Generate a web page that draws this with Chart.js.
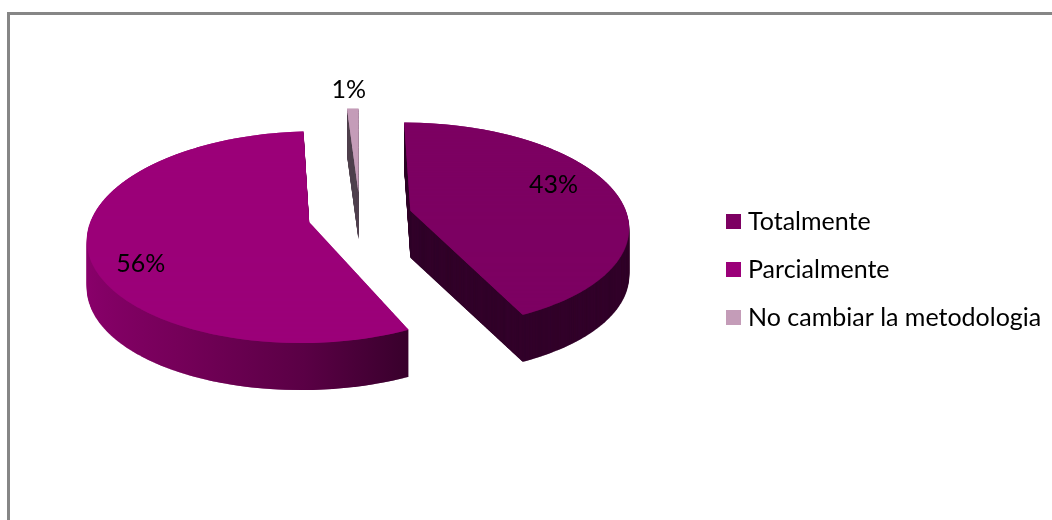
<!DOCTYPE html>
<html>
<head>
<meta charset="utf-8">
<title>Metodologia</title>
<script src="https://cdn.jsdelivr.net/npm/chart.js@4"></script>
<style>
  html, body { margin: 0; padding: 0; background: #fff; overflow: hidden; }
  #wrap { position: relative; width: 1052px; height: 520px; overflow: hidden; }
  #frame { position: absolute; left: 7px; top: 12px; width: 1200px; height: 700px; border: 3px solid #868686; }
  canvas { position: absolute; left: 0; top: 0; }
</style>
</head>
<body>
<div id="wrap">
  <div id="frame"></div>
  <canvas id="chart" width="1052" height="520"></canvas>
</div>
<script>
const categories = ['Totalmente', 'Parcialmente', 'No cambiar la metodologia'];
const percentages = [43, 56, 1];
const sliceColors = ['#7d0062', '#9b0079', '#c49cb8'];
const sideColors = ['#32002a', null, '#524450'];

// 3D look: perspective plane + extrusion
const CX = 360, CY = 216;
const RADIUS = 217, EXPLODE = 52, DEPTH = 47;
const TILT = 0.47, PERSP = 0.00065;
const STEP = 2;
const labelRadius = [0.68, 0.78, 1.22];
const labelNudge = [[4, -11], [3, 21], [-3, -3]];

function perspective(v) {
  return 1 / (1 - PERSP * v);
}

function project(u, v) {
  const s = perspective(v);
  return { x: CX + u * s, y: CY + TILT * v * s };
}

// draws one arc through the plane, one thin horizontal strip at a time
function drawSlice(ctx, arc, shiftY) {
  const mid = (arc.startAngle + arc.endAngle) / 2;
  const ex = Math.cos(mid) * EXPLODE, ey = Math.sin(mid) * EXPLODE;
  const f = RADIUS / arc.outerRadius;
  for (let v = -RADIUS - EXPLODE; v < RADIUS + EXPLODE; v += STEP) {
    const y0 = project(0, v).y, y1 = project(0, v + STEP).y;
    const sy = (y1 - y0) / STEP;
    ctx.save();
    ctx.beginPath();
    ctx.rect(0, y0 + shiftY - 0.4, 1052, y1 - y0 + 0.8);
    ctx.clip();
    ctx.transform(perspective(v + STEP / 2), 0, 0, sy, CX, y0 + shiftY - v * sy);
    ctx.translate(ex, ey);
    ctx.scale(f, f);
    ctx.translate(-arc.x, -arc.y);
    arc.draw(ctx);
    ctx.restore();
  }
}

function withFill(arc, fill, fn) {
  const saved = arc.options;
  arc.options = Object.assign({}, saved, { backgroundColor: fill, borderWidth: 0 });
  fn();
  arc.options = saved;
}

const pie3d = {
  id: 'pie3d',
  afterLayout(chart) {
    // legend sits at a fixed spot, same as the original
    const legend = chart.legend;
    legend.left = 731.5 - legend.options.labels.padding;
    legend.right = 1052;
    legend.top = 173;
    legend.bottom = 366;
  },
  beforeDatasetsDraw(chart) {
    const ctx = chart.ctx;
    const arcs = chart.getDatasetMeta(0).data;
    const order = [2, 0, 1];

    const p = arcs[1];
    const shade = ctx.createLinearGradient(p.x - p.outerRadius, 0, p.x + 0.45 * p.outerRadius, 0);
    shade.addColorStop(0, '#8a006b');
    shade.addColorStop(0.35, '#750059');
    shade.addColorStop(0.7, '#5a0045');
    shade.addColorStop(1, '#36002a');

    order.forEach((i) => {
      withFill(arcs[i], sideColors[i] || shade, () => {
        for (let d = DEPTH; d > 0; d -= 1) drawSlice(ctx, arcs[i], d);
      });
    });
    order.forEach((i) => drawSlice(ctx, arcs[i], 0));

    ctx.save();
    ctx.fillStyle = '#000';
    ctx.font = '25px Lato';
    ctx.textAlign = 'center';
    ctx.textBaseline = 'middle';
    arcs.forEach((arc, i) => {
      const mid = (arc.startAngle + arc.endAngle) / 2;
      const r = EXPLODE + RADIUS * labelRadius[i];
      const pos = project(Math.cos(mid) * r, Math.sin(mid) * r);
      ctx.fillText(percentages[i] + '%', pos.x + labelNudge[i][0], pos.y + labelNudge[i][1]);
    });
    ctx.restore();
    return false;
  },
};

new Chart(document.getElementById('chart').getContext('2d'), {
  type: 'pie',
  data: {
    labels: categories,
    datasets: [{ data: percentages, backgroundColor: sliceColors, borderWidth: 0 }],
  },
  options: {
    responsive: false,
    animation: false,
    plugins: {
      tooltip: { enabled: false },
      legend: {
        position: 'right',
        labels: {
          color: '#000',
          font: { family: 'Lato', size: 25 },
          usePointStyle: true,
          pointStyle: 'rect',
          boxWidth: 4,
          boxHeight: 15,
          padding: 23,
        },
      },
    },
  },
  plugins: [pie3d],
});
</script>
</body>
</html>
